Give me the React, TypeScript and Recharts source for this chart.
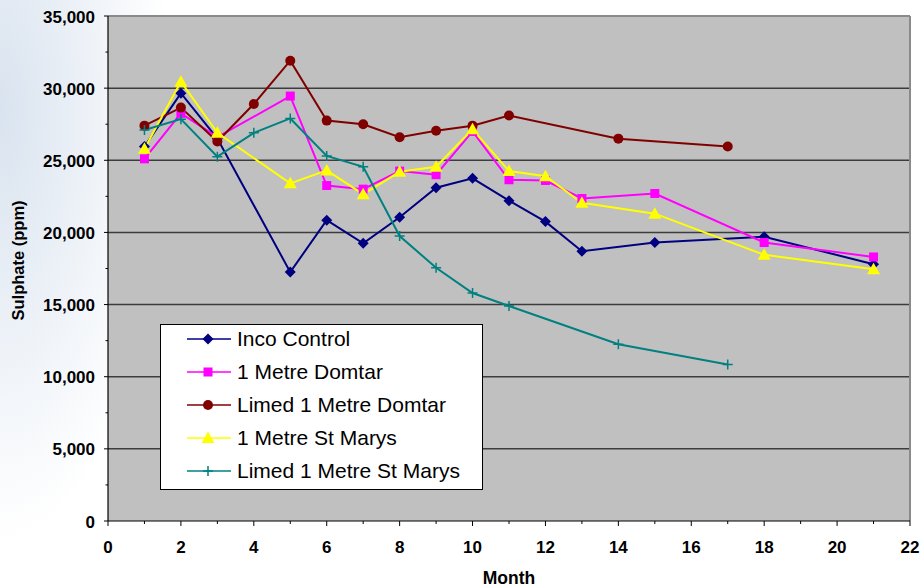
import { LineChart, Line, XAxis, YAxis, CartesianGrid, ReferenceLine, Legend, Label } from 'recharts';

const FONT = "'Liberation Sans', Arial, Helvetica, sans-serif";

// axis ticks (odd months / 2,500 steps are minor, unlabelled ticks)
const xTicks = [0, 1, 2, 3, 4, 5, 6, 7, 8, 9, 10, 11, 12, 13, 14, 15, 16, 17, 18, 19, 20, 21, 22];
const yTicks = [0, 2500, 5000, 7500, 10000, 12500, 15000, 17500, 20000, 22500, 25000, 27500, 30000, 32500, 35000];
const gridLevels = [5000, 10000, 15000, 20000, 25000, 30000];

// sampling months per series
const incoMonths = [1, 2, 3, 5, 6, 7, 8, 9, 10, 11, 12, 13, 15, 18, 21];
const domtarMonths = [1, 2, 3, 5, 6, 7, 8, 9, 10, 11, 12, 13, 15, 18, 21];
const limedDomtarMonths = [1, 2, 3, 4, 5, 6, 7, 8, 9, 10, 11, 14, 17];
const stMarysMonths = [1, 2, 3, 5, 6, 7, 8, 9, 10, 11, 12, 13, 15, 18, 21];
const limedStMarysMonths = [1, 2, 3, 4, 5, 6, 7, 8, 9, 10, 11, 14, 17];

// sulphate, ppm
const incoControl = [25950, 29650, 26500, 17250, 20850, 19250, 21050, 23100, 23750, 22200, 20750, 18700, 19300, 19700, 17800];
const domtar = [25100, 28250, 26600, 29450, 23250, 23000, 24250, 24000, 27000, 23650, 23600, 22350, 22700, 19300, 18300];
const limedDomtar = [27400, 28650, 26300, 28900, 31900, 27750, 27500, 26600, 27050, 27400, 28100, 26500, 25950];
const stMarys = [25800, 30450, 26900, 23400, 24300, 22650, 24200, 24550, 27150, 24250, 23900, 22050, 21300, 18450, 17450];
const limedStMarys = [27100, 27850, 25250, 26900, 27900, 25300, 24550, 19750, 17550, 15800, 14900, 12250, 10850];

type Shape = 'diamond' | 'square' | 'circle' | 'triangle' | 'plus';

const toPoints = (months: number[], values: number[]) =>
  months.map((month, i) => ({ month, sulphate: values[i] }));

const series: { name: string; color: string; shape: Shape; data: { month: number; sulphate: number }[] }[] = [
  { name: 'Inco Control', color: '#000080', shape: 'diamond', data: toPoints(incoMonths, incoControl) },
  { name: '1 Metre Domtar', color: '#FF00FF', shape: 'square', data: toPoints(domtarMonths, domtar) },
  { name: 'Limed 1 Metre Domtar', color: '#800000', shape: 'circle', data: toPoints(limedDomtarMonths, limedDomtar) },
  { name: '1 Metre St Marys', color: '#FFFF00', shape: 'triangle', data: toPoints(stMarysMonths, stMarys) },
  { name: 'Limed 1 Metre St Marys', color: '#008080', shape: 'plus', data: toPoints(limedStMarysMonths, limedStMarys) },
];

function Marker({ shape, cx, cy, color }: { shape: Shape; cx: number; cy: number; color: string }) {
  switch (shape) {
    case 'diamond':
      return <path d={`M${cx},${cy - 5.5}L${cx + 5.5},${cy}L${cx},${cy + 5.5}L${cx - 5.5},${cy}Z`} fill={color} />;
    case 'square':
      return <rect x={cx - 4.5} y={cy - 4.5} width={9} height={9} fill={color} />;
    case 'circle':
      return <circle cx={cx} cy={cy} r={5} fill={color} />;
    case 'triangle':
      return <path d={`M${cx},${cy - 6.5}L${cx + 6.5},${cy + 5}L${cx - 6.5},${cy + 5}Z`} fill={color} />;
    default:
      return <path d={`M${cx - 5},${cy}H${cx + 5}M${cx},${cy - 5}V${cy + 5}`} stroke={color} strokeWidth={1.5} fill="none" />;
  }
}

function MonthTick({ x, y, payload }: any) {
  const major = payload.value % 2 === 0;
  return (
    <g>
      <line x1={x} x2={x} y1={y} y2={y + (major ? 5 : 3)} stroke="#000" />
      {major && (
        <text x={x} y={y + 32} textAnchor="middle" fontFamily={FONT} fontWeight="bold" fontSize={17} fill="#000">
          {payload.value}
        </text>
      )}
    </g>
  );
}

function SulphateTick({ x, y, payload }: any) {
  const major = payload.value % 5000 === 0;
  return (
    <g>
      <line x1={x - (major ? 4 : 2.5)} x2={x} y1={y} y2={y} stroke="#000" />
      {major && (
        <text x={x - 13} y={y + 6.5} textAnchor="end" fontFamily={FONT} fontWeight="bold" fontSize={17} fill="#000">
          {payload.value.toLocaleString('en-US')}
        </text>
      )}
    </g>
  );
}

function LegendBox() {
  return (
    <div
      style={{
        position: 'relative',
        width: 321,
        height: 164,
        border: '1px solid #000',
        background: '#fff',
        fontFamily: FONT,
        fontSize: 21,
        color: '#000',
      }}
    >
      {series.map((s, i) => (
        <div
          key={s.name}
          style={{ position: 'absolute', left: 0, top: 14 + i * 33 - 14, height: 28, display: 'flex', alignItems: 'center' }}
        >
          <svg width={76} height={28} style={{ display: 'block' }}>
            <line x1={26} x2={70} y1={14} y2={14} stroke={s.color} strokeWidth={1.5} />
            <Marker shape={s.shape} cx={47} cy={14} color={s.color} />
          </svg>
          <span style={{ whiteSpace: 'nowrap', lineHeight: '28px' }}>{s.name}</span>
        </div>
      ))}
    </div>
  );
}

export default function App() {
  return (
    <div
      style={{
        position: 'absolute',
        left: 0,
        top: 0,
        width: 921,
        height: 588,
        background: 'radial-gradient(ellipse 170px 430px at 0px 110px, #d9e3ef 0%, rgba(255,255,255,0) 100%), #ffffff',
      }}
    >
      <LineChart width={921} height={588} margin={{ top: 16, right: 11, bottom: 0, left: 0 }}>
        <CartesianGrid
          vertical={false}
          horizontalValues={gridLevels}
          stroke="#3c3c3c"
          strokeWidth={1.5}
          fill="#C0C0C0"
          fillOpacity={1}
        />
        <XAxis
          dataKey="month"
          type="number"
          domain={[0, 22]}
          ticks={xTicks}
          interval={0}
          height={67}
          tickSize={0}
          tickMargin={0}
          tickLine={false}
          tick={<MonthTick />}
          axisLine={{ stroke: '#000', strokeWidth: 1.2 }}
        >
          <Label
            content={({ viewBox }: any) => (
              <text
                x={viewBox.x + viewBox.width / 2}
                y={viewBox.y + 63}
                textAnchor="middle"
                fontFamily={FONT}
                fontWeight="bold"
                fontSize={17.5}
                fill="#000"
              >
                Month
              </text>
            )}
          />
        </XAxis>
        <YAxis
          type="number"
          domain={[0, 35000]}
          ticks={yTicks}
          interval={0}
          width={108}
          tickSize={0}
          tickMargin={0}
          tickLine={false}
          tick={<SulphateTick />}
          axisLine={{ stroke: '#000', strokeWidth: 1.2 }}
        >
          <Label
            content={({ viewBox }: any) => (
              <text
                x={24}
                y={viewBox.y + viewBox.height / 2 - 8}
                transform={`rotate(-90 24 ${viewBox.y + viewBox.height / 2 - 8})`}
                textAnchor="middle"
                fontFamily={FONT}
                fontWeight="bold"
                fontSize={16.5}
                fill="#000"
              >
                Sulphate (ppm)
              </text>
            )}
          />
        </YAxis>
        <ReferenceLine y={35000} stroke="#8a8a8a" strokeWidth={2} />
        <ReferenceLine x={22} stroke="#8a8a8a" strokeWidth={2} />
        {series.map((s) => (
          <Line
            key={s.name}
            name={s.name}
            data={s.data}
            dataKey="sulphate"
            type="linear"
            stroke={s.color}
            strokeWidth={2}
            isAnimationActive={false}
            activeDot={false}
            dot={(p: any) => <Marker key={`${s.name}-${p.index}`} shape={s.shape} cx={p.cx} cy={p.cy} color={s.color} />}
          />
        ))}
        <Legend
          layout="vertical"
          align="center"
          verticalAlign="middle"
          content={() => <LegendBox />}
          wrapperStyle={{ left: 160, top: 324, width: 323, height: 166 }}
        />
      </LineChart>
    </div>
  );
}
